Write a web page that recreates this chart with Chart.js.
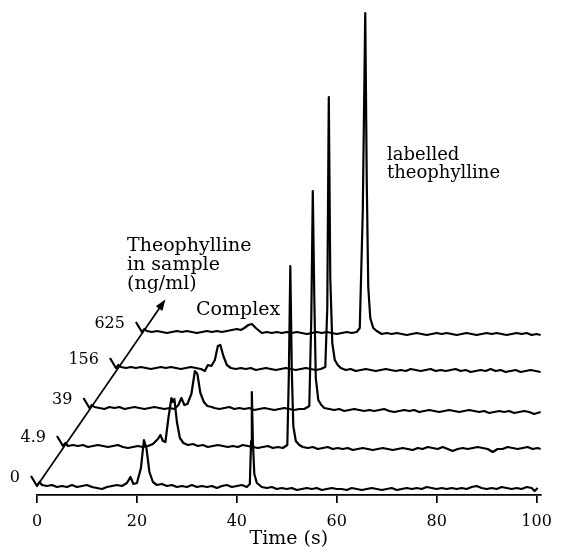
<!DOCTYPE html>
<html>
<head>
<meta charset="utf-8">
<script src="https://cdn.jsdelivr.net/npm/chart.js@4.4.1/dist/chart.umd.min.js"></script>
<style>
  html, body { margin: 0; padding: 0; background: #fff; }
  #chart { display: block; }
</style>
</head>
<body>
<canvas id="chart" width="561" height="550"></canvas>
<script>
// concentrations (ng/ml) of theophylline in the sample, one trace each
const concLabels = ['0', '4.9', '39', '156', '625'];
const xTicks = [0, 20, 40, 60, 80, 100];

// each trace: [time (s), signal]
const trace0 = [[-1.2,10],[0,0],[0.5,4],[1,1],[2,0],[3,1],[4,-1],[5,0],[6,-1],[7,1],[8,-1],[9,0],[10,1],[11,-1],[12,-2],[13,-3],[14,-1],[15,0],[16,1],[17,0],[18,3],[18.7,9],[19.3,2],[20,3],[20.8,18],[21.4,46],[21.9,38],[22.5,14],[23.2,4],[24,1],[25,2],[26,0],[27,1],[28,-1],[29,0],[30,-1],[31,1],[32,-1],[33,0],[34,-1],[35,0],[36,-2],[37,0],[38,1],[39,-1],[40,0],[41,1],[42,-1],[42.6,2],[42.85,45],[43,94],[43.2,45],[43.5,12],[44,3],[45,-1],[46,-2],[47,-1],[48,-3],[49,-2],[50,-3],[51,-2],[52,-4],[53,-3],[54,-2],[55,-3],[56,-2],[57,-4],[58,-3],[59,-2],[60,-3],[61,-3],[62,-4],[63,-2],[64,-3],[65,-4],[66,-3],[67,-2],[68,-3],[69,-4],[70,-3],[71,-2],[72,-4],[73,-3],[74,-2],[75,-3],[76,-2],[77,-3],[78,-1],[79,-2],[80,-3],[81,-2],[82,-3],[83,-2],[84,-3],[85,-2],[86,-3],[87,-1],[88,0],[89,-2],[90,-3],[91,-2],[92,-3],[93,-1],[94,-2],[95,-3],[96,-2],[97,-3],[98,-1],[99,-2],[99.6,-5],[100.2,-2]];
const trace1 = [[-1.2,10],[0,0],[0.5,3],[1,0],[2,1],[3,0],[4,1],[5,-1],[6,0],[7,1],[8,0],[9,-1],[10,0],[11,1],[12,-1],[13,-2],[14,-1],[15,0],[16,-1],[17,0],[18,2],[19,7],[19.5,11],[20,5],[20.5,4],[21.1,28],[21.7,48],[22,44],[22.3,47],[22.8,24],[23.4,8],[24.1,3],[25,1],[26,2],[27,0],[28,1],[29,-1],[30,0],[31,1],[32,0],[33,-1],[34,0],[35,-1],[36,1],[37,0],[38,-1],[39,-2],[40,-1],[41,0],[42,-2],[43,-1],[44,-2],[44.9,1],[45.2,70],[45.5,180],[45.8,75],[46.1,20],[46.6,5],[47.3,1],[48,-1],[49,-2],[50,-1],[51,-3],[52,-2],[53,-1],[54,-3],[55,-2],[56,-3],[57,-2],[58,-4],[59,-3],[60,-2],[61,-3],[62,-4],[63,-3],[64,-2],[65,-3],[66,-4],[67,-3],[68,-2],[69,-3],[70,-4],[71,-2],[72,-3],[73,-1],[74,-2],[75,-3],[76,-1],[77,-3],[78,-5],[79,-3],[80,-2],[81,-3],[82,-2],[83,-1],[84,-2],[85,-3],[86,-6],[87,-3],[88,-3],[89,-1],[90,-2],[91,-3],[92,-2],[93,-1],[94,-3],[95,-2],[95.6,-3]];
const trace2 = [[-1.2,10],[0,0],[0.5,3],[1,1],[2,0],[3,-1],[4,1],[5,0],[6,1],[7,-1],[8,0],[9,1],[10,0],[11,-1],[12,0],[13,1],[14,0],[15,-1],[16,0],[17,-1],[17.8,3],[18.4,10],[19,3],[19.6,4],[20.4,14],[21.1,37],[21.6,34],[22.2,15],[22.9,6],[23.6,2],[24.5,1],[25,0],[26,-1],[27,0],[28,1],[29,-1],[30,0],[31,-1],[32,0],[33,-2],[34,-1],[35,0],[36,-1],[37,-2],[38,-1],[39,0],[40,-1],[41,-2],[42,-1],[43,-1],[44,2],[44.4,90],[44.7,217],[45,110],[45.3,30],[45.8,8],[46.4,3],[47,0],[48,-1],[49,-2],[50,-1],[51,-3],[52,-2],[53,-1],[54,-2],[55,-3],[56,-2],[57,-3],[58,-2],[59,-1],[60,-3],[61,-4],[62,-3],[63,-2],[64,-3],[65,-2],[66,-4],[67,-3],[68,-2],[69,-3],[70,-4],[71,-3],[72,-2],[73,-3],[74,-4],[75,-3],[76,-2],[77,-3],[78,-4],[79,-3],[80,-5],[81,-4],[82,-3],[83,-4],[84,-3],[85,-5],[86,-4],[87,-3],[88,-4],[89,-6],[90.3,-4]];
const trace3 = [[-1.2,10],[0,0],[0.5,3],[1,1],[2,0],[3,1],[4,0],[5,1],[6,0],[7,-1],[8,0],[9,1],[10,0],[11,1],[12,0],[13,-1],[14,0],[15,1],[16,0],[17,-1],[17.8,-3],[18.4,3],[19.1,2],[19.8,8],[20.4,22],[20.9,23],[21.5,12],[22.2,3],[23,0],[24,-1],[25,0],[26,-1],[27,0],[28,-2],[29,-1],[30,0],[31,-1],[32,-2],[33,-1],[34,0],[35,-1],[36,-2],[37,-1],[38,0],[39,-1],[40,-2],[41,-1],[41.9,1],[42.3,60],[42.6,271],[42.9,90],[43.3,25],[43.8,8],[44.4,3],[45,0],[46,-2],[47,-1],[48,-3],[49,-2],[50,-1],[51,-2],[52,-3],[53,-2],[54,-1],[55,-2],[56,-3],[57,-2],[58,-3],[59,-1],[60,-2],[61,-3],[62,-2],[63,-1],[64,-3],[65,-2],[66,-3],[67,-2],[68,-1],[69,-3],[70,-2],[71,-4],[72,-3],[73,-2],[74,-3],[75,-1],[76,-3],[77,-2],[78,-4],[79,-3],[80,-2],[81,-4],[82,-3],[83,-2],[84,-3],[85,-4]];
const trace4 = [[-1.2,10],[0,0],[0.5,3],[1,1],[2,0],[3,1],[4,0],[5,-1],[6,0],[7,1],[8,0],[9,1],[10,0],[11,-1],[12,0],[13,1],[14,0],[15,1],[16,0],[17,1],[18,2],[19,3],[19.8,2],[20.5,4],[21.3,7],[22,8],[22.8,4],[23.5,1],[24,-1],[25,0],[26,-1],[27,0],[28,-1],[29,0],[30,-1],[31,0],[32,-1],[33,-2],[34,-1],[35,0],[36,-1],[37,0],[38,-1],[39,-2],[40,-1],[41,0],[42,-1],[43,0],[43.6,4],[44.2,120],[44.7,319],[45,150],[45.3,45],[45.7,14],[46.3,4],[47,1],[48,-2],[49,-1],[50,-2],[51,-1],[52,-2],[53,-3],[54,-2],[55,-1],[56,-2],[57,-3],[58,-2],[59,-1],[60,-2],[61,-1],[62,-2],[63,-3],[64,-2],[65,-1],[66,-2],[67,-3],[68,-2],[69,-1],[70,-2],[71,-1],[72,-2],[73,-3],[74,-2],[75,-1],[76,-2],[77,-1],[78,-3],[79,-2],[79.8,-3]];
const traces = [trace0, trace1, trace2, trace3, trace4];

// waterfall layout: each trace is moved right and up
const shifts = [0, 5.2, 10.5, 15.8, 21.0];
const lifts = [9, 49, 87, 127, 163];

const serif = 'DejaVu Serif';

const overlay = {
  id: 'overlay',
  afterDraw(chart) {
    const c = chart.ctx;
    const xs = chart.scales.x, ys = chart.scales.y;
    c.save();
    c.fillStyle = '#000';
    c.strokeStyle = '#000';

    // concentration axis arrow through the trace starts
    const x0 = xs.getPixelForValue(shifts[0]), y0 = ys.getPixelForValue(lifts[0]);
    const n = shifts.length - 1;
    const dx = (xs.getPixelForValue(shifts[n]) - x0) / n;
    const dy = (ys.getPixelForValue(lifts[n]) - y0) / n;
    const tx = x0 + dx * 4.85, ty = y0 + dy * 4.8;
    c.lineWidth = 1.7;
    c.beginPath();
    c.moveTo(x0, y0);
    c.lineTo(tx, ty);
    c.stroke();
    const a = Math.atan2(ty - y0, tx - x0);
    c.beginPath();
    c.moveTo(tx + 2 * Math.cos(a), ty + 2 * Math.sin(a));
    c.lineTo(tx - 9 * Math.cos(a) + 4 * Math.sin(a), ty - 9 * Math.sin(a) - 4 * Math.cos(a));
    c.lineTo(tx - 9 * Math.cos(a) - 4 * Math.sin(a), ty - 9 * Math.sin(a) + 4 * Math.cos(a));
    c.closePath();
    c.fill();

    // concentration labels
    c.font = '16px "' + serif + '"';
    c.textAlign = 'right';
    c.textBaseline = 'alphabetic';
    concLabels.forEach((lab, k) => {
      const px = xs.getPixelForValue(shifts[k]);
      const py = ys.getPixelForValue(lifts[k]);
      c.fillText(lab, px - 17, py - 4);
    });

    // annotations
    c.font = '19px "' + serif + '"';
    c.textAlign = 'left';
    c.fillText('Theophylline', 127, 251);
    c.fillText('in sample', 127, 270);
    c.fillText('(ng/ml)', 127, 289);
    c.fillText('Complex', 196, 315);
    c.font = '18px "' + serif + '"';
    c.fillText('labelled', 387, 160);
    c.fillText('theophylline', 387, 178);
    c.restore();
  }
};

new Chart(document.getElementById('chart').getContext('2d'), {
  type: 'line',
  data: {
    datasets: traces.map((tr, k) => ({
      label: concLabels[k],
      data: tr.map(([t, v]) => ({ x: t + shifts[k], y: v + lifts[k] })),
      borderColor: '#000',
      borderWidth: 2.2,
      borderJoinStyle: 'round',
      pointRadius: 0,
      tension: 0,
      fill: false,
      clip: false
    }))
  },
  options: {
    responsive: false,
    animation: false,
    layout: { padding: { left: 37, right: 13, top: 10, bottom: 0 } },
    plugins: {
      legend: { display: false },
      tooltip: { enabled: false }
    },
    scales: {
      x: {
        type: 'linear',
        min: 0,
        max: 100.8,
        afterBuildTicks: s => { s.ticks = xTicks.map(v => ({ value: v })); },
        afterFit: s => { s.height = 55; },
        grid: { drawOnChartArea: false, drawTicks: true, tickLength: 8, color: '#000', lineWidth: 1.7 },
        border: { display: true, color: '#000', width: 1.7 },
        ticks: { color: '#000', font: { family: serif, size: 16 }, padding: 9, maxRotation: 0, autoSkip: false },
        title: { display: true, text: 'Time (s)', color: '#000', font: { family: serif, size: 19 }, padding: 0 }
      },
      y: { display: false, min: 0, max: 485 }
    }
  },
  plugins: [overlay]
});
</script>
</body>
</html>
